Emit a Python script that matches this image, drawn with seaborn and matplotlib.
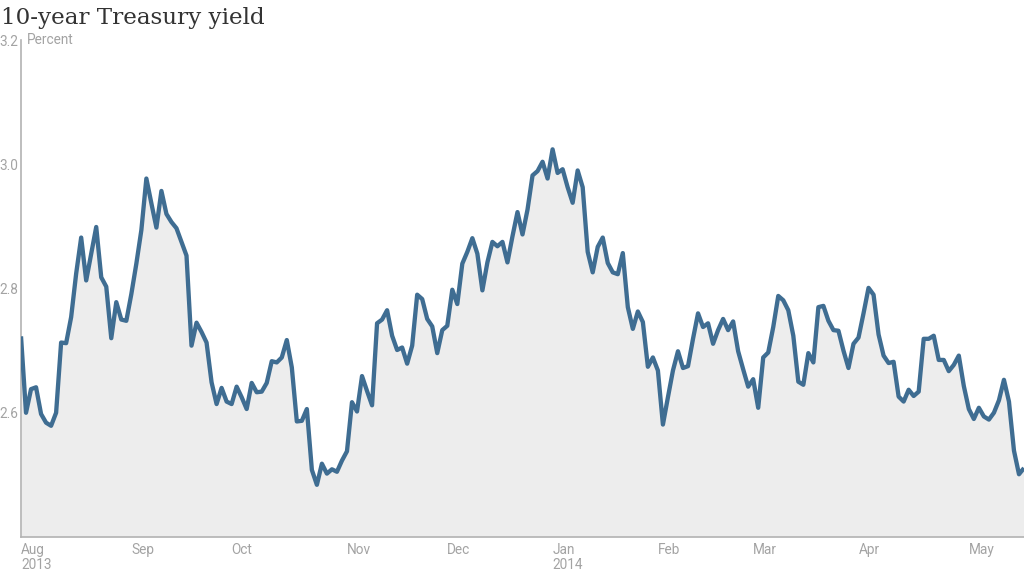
import numpy as np
import pandas as pd
import matplotlib
matplotlib.use("Agg")
import matplotlib.pyplot as plt
import matplotlib.transforms as mtransforms
import seaborn as sns

# Daily 10-year Treasury yield (percent), one list per month of trading days
aug_2013 = [2.723, 2.600, 2.638, 2.641, 2.598, 2.584, 2.579, 2.600, 2.713, 2.712,
            2.754, 2.824, 2.882, 2.813, 2.856, 2.899, 2.818, 2.803, 2.720, 2.778,
            2.750, 2.748]
sep_2013 = [2.791, 2.840, 2.894, 2.977, 2.937, 2.898, 2.957, 2.920, 2.907, 2.897,
            2.875, 2.853, 2.708, 2.745, 2.730, 2.713, 2.649, 2.614, 2.640, 2.618]
oct_2013 = [2.614, 2.642, 2.625, 2.606, 2.648, 2.633, 2.634, 2.648, 2.683, 2.681,
            2.689, 2.717, 2.673, 2.586, 2.587, 2.606, 2.508, 2.484, 2.518, 2.502,
            2.509, 2.505, 2.523]
nov_2013 = [2.538, 2.617, 2.602, 2.659, 2.635, 2.612, 2.744, 2.750, 2.765, 2.724,
            2.701, 2.705, 2.679, 2.708, 2.790, 2.783, 2.751, 2.739, 2.696, 2.733]
dec_2013 = [2.740, 2.798, 2.775, 2.840, 2.859, 2.881, 2.856, 2.797, 2.842, 2.875,
            2.868, 2.875, 2.842, 2.884, 2.923, 2.887, 2.927, 2.982, 2.989, 3.004,
            2.977]
jan_2014 = [3.024, 2.986, 2.992, 2.963, 2.938, 2.990, 2.963, 2.859, 2.826, 2.867,
            2.882, 2.841, 2.826, 2.823, 2.857, 2.770, 2.735, 2.763, 2.746, 2.674,
            2.689]
feb_2014 = [2.668, 2.581, 2.625, 2.668, 2.699, 2.672, 2.675, 2.719, 2.760, 2.738,
            2.744, 2.711, 2.733, 2.751, 2.733, 2.747, 2.699, 2.670, 2.642]
mar_2014 = [2.654, 2.608, 2.689, 2.697, 2.738, 2.788, 2.781, 2.765, 2.724, 2.650,
            2.645, 2.696, 2.681, 2.770, 2.772, 2.748, 2.733, 2.732, 2.700, 2.672,
            2.711]
apr_2014 = [2.721, 2.760, 2.801, 2.790, 2.726, 2.692, 2.680, 2.682, 2.626, 2.618,
            2.637, 2.627, 2.634, 2.719, 2.719, 2.724, 2.685, 2.685, 2.667, 2.677,
            2.692, 2.643]
may_2014 = [2.606, 2.590, 2.608, 2.594, 2.589, 2.600, 2.620, 2.653, 2.618, 2.539,
            2.501, 2.511]

months = [aug_2013, sep_2013, oct_2013, nov_2013, dec_2013,
          jan_2014, feb_2014, mar_2014, apr_2014, may_2014]
month_labels = ["Aug\n2013", "Sep", "Oct", "Nov", "Dec",
                "Jan\n2014", "Feb", "Mar", "Apr", "May"]
y_ticks = [2.6, 2.8, 3.0, 3.2]
y_min, y_max = 2.4, 3.2

yields = np.concatenate([np.array(m, dtype=float) for m in months])
day_index = np.arange(len(yields))
month_starts = np.cumsum([0] + [len(m) for m in months[:-1]])
df = pd.DataFrame({"day": day_index, "yield": yields})

sns.set_style("white")
plt.rcParams["font.family"] = ["Roboto", "DejaVu Sans"]

GRAY = "#A3A3A3"
AXIS = "#B3B3B3"
FS = 9.8

fig = plt.figure(figsize=(10.24, 5.76), dpi=100)
ax = fig.add_axes([21 / 1024, 1 - 537 / 576, 1 - 21 / 1024, 497 / 576])

ax.fill_between(df["day"], df["yield"], y_min, color="#EDEDED", lw=0, zorder=1)
sns.lineplot(data=df, x="day", y="yield", ax=ax, color="#3F6D92", lw=3.1,
             zorder=3, solid_joinstyle="round", solid_capstyle="butt")

ax.set_xlim(0, len(yields) - 1)
ax.set_ylim(y_min, y_max)
ax.set_xlabel("")
ax.set_ylabel("")

for s in ["top", "right"]:
    ax.spines[s].set_visible(False)
for s in ["left", "bottom"]:
    ax.spines[s].set_color(AXIS)
    ax.spines[s].set_linewidth(1.2)
    ax.spines[s].set_zorder(2)

ax.set_yticks(y_ticks)
ax.set_yticklabels([f"{t:.1f}" for t in y_ticks])
ax.tick_params(axis="y", which="major", length=0, pad=2, labelsize=FS,
               labelcolor=GRAY)
ax.set_yticks([y_max], minor=True)
ax.tick_params(axis="y", which="minor", direction="inout", length=6,
               width=1, color=AXIS)

ax.set_xticks(month_starts)
ax.set_xticklabels(month_labels, ha="left", linespacing=1.15)
ax.tick_params(axis="x", length=0, pad=4, labelsize=FS, labelcolor=GRAY)

trans = mtransforms.blended_transform_factory(ax.transAxes, ax.transData)
ax.annotate("Percent", xy=(0, y_max), xycoords=trans, xytext=(6, 0),
            textcoords="offset pixels", va="center", ha="left",
            fontsize=FS, color=GRAY, annotation_clip=False)

fig.text(1 / 1024, 1 - 24 / 576, "10-year Treasury yield", ha="left",
         va="baseline", family=["DejaVu Serif"], fontsize=16.6, color="#333333")

fig.savefig("out.png", dpi=100)
